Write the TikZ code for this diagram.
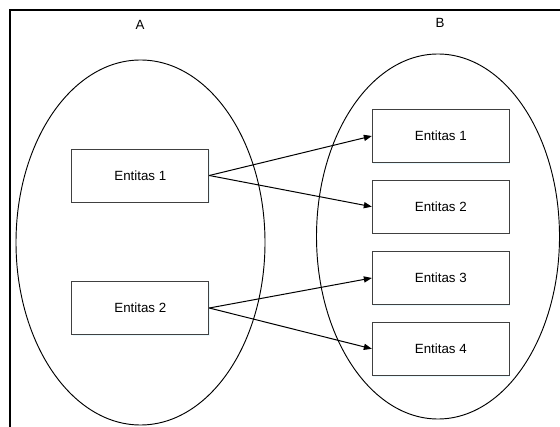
\documentclass[tikz,border=0pt]{standalone}
\usepackage{fontspec}
\setmainfont{Liberation Sans}
\usetikzlibrary{arrows.meta,shadows}
\begin{document}
\begin{tikzpicture}[x=0.75pt,y=-0.75pt,
  entbox/.style={draw=black!75, line width=0.7pt, fill=white, minimum width=137*0.75pt, minimum height=53*0.75pt, inner sep=0pt, font=\fontsize{10}{12}\selectfont,
    drop shadow={shadow xshift=0.6pt, shadow yshift=-0.9pt, fill=blue!25!cyan!15, opacity=0.6}},
  setell/.style={draw=black, line width=0.7pt},
  lbl/.style={font=\fontsize{10}{12}\selectfont, inner sep=0pt},
  conn/.style={draw=black, line width=0.75pt, -{Triangle[length=6pt,width=4.6pt]}}]
\useasboundingbox (0,0) rectangle (560,427);
\fill[white] (0,0) rectangle (560,427);
% frame
\draw[line width=1.9pt] (10,427) -- (10,10) -- (560,10);
% ellipses
\draw[setell] (140.5,242.5) ellipse [x radius=124.5, y radius=182.5];
\draw[setell] (438,236.5) ellipse [x radius=121.5, y radius=182.5];
% labels
\node[lbl] (labA) at (140,25) {A};
\node[lbl] (labB) at (440,23) {B};
% boxes
\node[entbox] (a1) at (140.3,175.5) {Entitas 1};
\node[entbox] (a2) at (140.3,308) {Entitas 2};
\node[entbox] (b1) at (440.8,136) {Entitas 1};
\node[entbox] (b2) at (440.8,206.7) {Entitas 2};
\node[entbox] (b3) at (440.8,278) {Entitas 3};
\node[entbox] (b4) at (440.8,348.8) {Entitas 4};
% connectors
\draw[conn] (a1.east) -- (b1.west);
\draw[conn] (a1.east) -- (b2.west);
\draw[conn] (a2.east) -- (b3.west);
\draw[conn] (a2.east) -- (b4.west);
\end{tikzpicture}
\end{document}
